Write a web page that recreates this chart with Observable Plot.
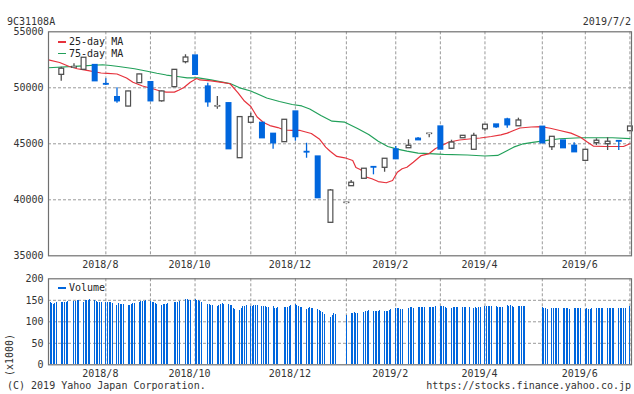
<!DOCTYPE html>
<html><head><meta charset="utf-8">
<script src="https://cdn.jsdelivr.net/npm/d3@7"></script>
<script src="https://cdn.jsdelivr.net/npm/@observablehq/plot@0.6"></script>
<style>
body{margin:0;background:#fff;}
#wrap{position:relative;width:634px;height:394px;font-family:"DejaVu Sans Mono",monospace;font-size:10px;color:#333;overflow:hidden;}
.t{position:absolute;line-height:10px;white-space:nowrap;}
.sw{position:absolute;height:1.5px;width:8px;}
#price,#vol{position:absolute;left:0;}
</style></head><body>
<div id="wrap">
  <div id="price" style="top:0"></div>
  <div id="vol" style="top:272px"></div>
  <div class="t" style="left:7px;top:16.5px">9C31108A</div>
  <div class="t" style="right:3px;top:16.5px">2019/7/2</div>
  <div class="sw" style="left:58px;top:41px;background:#e6323c"></div>
  <div class="t" style="left:69px;top:36.8px;color:#222">25-day MA</div>
  <div class="sw" style="left:58px;top:52.6px;background:#22a05a"></div>
  <div class="t" style="left:69px;top:48.5px;color:#222">75-day MA</div>
  <div class="sw" style="left:58px;top:287px;background:#0066dd"></div>
  <div class="t" style="left:69px;top:282.8px;color:#222">Volume</div>
  <div class="t" style="left:10px;top:354.5px;transform:translate(-50%,-50%) rotate(-90deg)">(x1000)</div>
  <div class="t" style="left:7px;top:380.5px">(C) 2019 Yahoo Japan Corporation.</div>
  <div class="t" style="right:3px;top:380.5px">https://stocks.finance.yahoo.co.jp</div>
</div>
<script>
// ---- data ----
const candleDates = ["2018-07-09","2018-07-17","2018-07-23","2018-07-30","2018-08-06","2018-08-13","2018-08-20","2018-08-27","2018-09-03","2018-09-10","2018-09-18","2018-09-25","2018-10-01","2018-10-09","2018-10-15","2018-10-22","2018-10-29","2018-11-05","2018-11-12","2018-11-19","2018-11-26","2018-12-03","2018-12-10","2018-12-17","2018-12-25","2019-01-04","2019-01-07","2019-01-15","2019-01-21","2019-01-28","2019-02-04","2019-02-12","2019-02-18","2019-02-25","2019-03-04","2019-03-11","2019-03-18","2019-03-25","2019-04-01","2019-04-08","2019-04-15","2019-04-22","2019-05-07","2019-05-13","2019-05-20","2019-05-27","2019-06-03","2019-06-10","2019-06-17","2019-06-24","2019-07-01"];
const openV  = [51160,51800,51610,52030,50330,49160,48330,50420,50500,48800,50060,52290,52880,50110,48330,48620,43720,46880,46870,45890,45150,47880,44270,43860,37950,39720,41220,41880,42920,42860,44490,44610,45450,45880,46540,44560,45500,44470,46300,46720,47170,46570,46520,44700,45290,44820,43480,45060,44970,45240,46130];
const highV  = [51840,52140,52700,52050,50800,50000,49700,51200,50500,49700,51620,52950,52890,50410,49220,48630,47390,47730,46880,45900,47150,47890,45050,43870,40920,39760,41720,42780,42920,43670,44760,45360,45560,45900,46550,45320,45720,45950,46710,46730,47290,47290,46530,45630,45300,45090,44470,45450,45540,45240,46550];
const lowV   = [50590,51720,51600,50590,50200,48620,48300,50400,48800,48720,50050,52140,51150,48270,48090,44510,43710,46870,45500,44520,45140,45230,43710,40150,37940,39700,41210,41870,42230,42460,43620,44600,45310,45530,44490,44550,45490,44460,46120,46360,46390,46560,45040,44400,44600,44240,43470,44850,44400,44400,46120];
const closeV = [51700,51850,52680,50590,50290,48800,49670,51190,48800,49670,51600,52700,51160,48710,48360,44520,47380,47380,45500,45050,47140,45600,44230,40150,40830,39740,41520,42770,42880,43660,43630,44820,45320,45900,44490,45110,45710,45710,46700,46480,46660,47080,45050,45620,44610,44250,44460,45270,45180,45200,46540];

const ma25Dates = ["2018-07-01","2018-07-08","2018-07-14","2018-07-19","2018-07-26","2018-08-03","2018-08-07","2018-08-13","2018-08-19","2018-08-23","2018-08-29","2018-09-05","2018-09-09","2018-09-13","2018-09-18","2018-09-21","2018-09-24","2018-09-28","2018-10-02","2018-10-04","2018-10-11","2018-10-19","2018-10-23","2018-10-28","2018-11-01","2018-11-05","2018-11-09","2018-11-13","2018-11-17","2018-11-22","2018-11-26","2018-12-01","2018-12-06","2018-12-13","2018-12-18","2018-12-22","2018-12-25","2018-12-29","2019-01-03","2019-01-08","2019-01-10","2019-01-13","2019-01-16","2019-01-20","2019-01-24","2019-01-29","2019-02-02","2019-02-05","2019-02-08","2019-02-11","2019-02-15","2019-02-20","2019-02-25","2019-03-01","2019-03-05","2019-03-09","2019-03-16","2019-03-22","2019-03-29","2019-04-05","2019-04-11","2019-04-15","2019-04-19","2019-04-23","2019-04-30","2019-05-06","2019-05-12","2019-05-18","2019-05-25","2019-05-31","2019-06-04","2019-06-08","2019-06-15","2019-06-21","2019-06-27","2019-07-01"];
const ma25Values = [52500,52260,51900,51700,51540,51320,51280,51230,50880,50500,50160,49890,49710,49610,49610,49800,50030,50500,50830,50700,50610,50470,50360,49540,48820,48330,47390,46900,46630,46450,46230,46190,46190,45920,45430,44700,44310,43870,43750,43510,42880,42680,42040,41880,41630,41520,41720,42460,42770,42910,43360,43950,44130,44580,44850,45140,45340,45430,45520,45650,45790,45950,46190,46410,46500,46540,46390,46190,45950,45590,45180,44800,44760,44760,44760,45000];

const ma75Dates = ["2018-07-01","2018-07-20","2018-08-04","2018-08-09","2018-08-14","2018-08-24","2018-09-01","2018-09-07","2018-09-13","2018-09-20","2018-09-26","2018-10-03","2018-10-11","2018-10-23","2018-10-29","2018-11-05","2018-11-15","2018-11-23","2018-12-01","2018-12-07","2018-12-12","2018-12-19","2018-12-26","2019-01-03","2019-01-11","2019-01-18","2019-01-24","2019-01-30","2019-02-05","2019-02-11","2019-02-18","2019-02-25","2019-03-06","2019-03-21","2019-04-01","2019-04-09","2019-04-13","2019-04-19","2019-04-25","2019-05-01","2019-05-10","2019-05-18","2019-05-31","2019-06-20","2019-07-01"];
const ma75Values = [51790,51930,52060,51990,51900,51700,51480,51300,51140,51010,50890,50880,50710,50380,50000,49710,49090,48780,48510,48380,48110,47530,47020,46930,46370,45830,45230,44760,44520,44340,44160,44130,44050,44000,43910,43960,44250,44700,45000,45120,45300,45450,45540,45540,45470];

const holidays = ["2018-07-16","2018-09-17","2018-09-24","2018-10-08","2018-11-23","2018-12-24","2018-12-31","2019-01-01","2019-01-02","2019-01-03","2019-01-14","2019-02-11","2019-03-21","2019-04-29","2019-04-30","2019-05-01","2019-05-02","2019-05-03","2019-05-06"];
const volumeWeeks = ["2018-07-02","2018-07-09","2018-07-16","2018-07-23","2018-07-30","2018-08-06","2018-08-13","2018-08-20","2018-08-27","2018-09-03","2018-09-10","2018-09-17","2018-09-24","2018-10-01","2018-10-08","2018-10-15","2018-10-22","2018-10-29","2018-11-05","2018-11-12","2018-11-19","2018-11-26","2018-12-03","2018-12-10","2018-12-17","2018-12-24","2018-12-31","2019-01-07","2019-01-14","2019-01-21","2019-01-28","2019-02-04","2019-02-11","2019-02-18","2019-02-25","2019-03-04","2019-03-11","2019-03-18","2019-03-25","2019-04-01","2019-04-08","2019-04-15","2019-04-22","2019-05-06","2019-05-13","2019-05-20","2019-05-27","2019-06-03","2019-06-10","2019-06-17","2019-06-24","2019-07-01"];
const volumeValues = [
 [146,143,141,143,145],[145,144,145,146,147],[148,148,149,150],[146,149,150,150,151],[149,147,145,144,144],
 [145,145,145,146,143],[138,142,141,141,141],[138,139,141,142,143],[146,147,147,148,150],[148,146,144,142,141],
 [139,140,140,141,143],[144,144,146,147],[152,153,150,150],[152,150,149,147,145],[141,141,137,137],
 [136,139,141,142,140],[140,138,138,130,128],[126,131,136,136,138],[136,136,137,138,138],[136,136,136,134,134],
 [136,131,131,133],[133,133,134,136,138],[140,138,136,134,133],[128,130,133,131,130],[129,127,124,122,116],
 [111,115,119,116],[115],[119,119,121,119,119],[122,124,125,126],[125,125,124,125,126],
 [125,125,124,126,128],[131,131,130,128,128],[131,133,133,132],[133,133,133,133,133],[133,133,133,134,135],
 [136,136,135,133,131],[131,133,133,133,133],[133,133,133,133],[131,133,131,133,133],[135,135,135,135,135],
 [135,133,133,133,133],[138,136,138,136,133],[136,136,136,136,136],[133,131,130,128],[130,131,131,131,131],
 [131,131,130,130,128],[130,131,130,130,130],[128,130,128,129,130],[131,131,131,131,131],[131,130,131,131,131],
 [131,130,131,131,131],[135,135]
];

const gridDates = ["2018-08-06","2018-09-03","2018-10-01","2018-11-05","2018-12-03","2019-01-04","2019-02-04","2019-03-04","2019-04-01","2019-05-07","2019-06-03","2019-07-01"];
const labelDates = ["2018-08-06","2018-10-01","2018-12-03","2019-02-04","2019-04-01","2019-06-03"];
const labelTexts = ["2018/8","2018/10","2018/12","2019/2","2019/4","2019/6"];
const priceTicks = [35000,40000,45000,50000,55000];
const volumeTicks = [0,50,100,150,200];
const xStart = "2018-07-01", xEnd = "2019-07-02";

// ---- build ----
const BLUE = "#0066dd", RED = "#e6323c", GREEN = "#22a05a", GRAY = "#505050", GRID = "#999", FRAME = "#707070";
const D = s => new Date(s);
const candles = candleDates.map((d, i) => ({
  date: D(d), o: openV[i], h: highV[i], l: lowV[i], c: closeV[i],
  top: Math.max(openV[i], closeV[i]), bot: Math.min(openV[i], closeV[i]), up: closeV[i] >= openV[i]
}));
const up = candles.filter(d => d.up), down = candles.filter(d => !d.up);
const ma25 = ma25Dates.map((d, i) => ({date: D(d), v: ma25Values[i]}));
const ma75 = ma75Dates.map((d, i) => ({date: D(d), v: ma75Values[i]}));
const fmtDay = d3.utcFormat("%Y-%m-%d");
const volData = [];
volumeWeeks.forEach((w, i) => {
  const s = D(w);
  const days = d3.range(5).map(k => d3.utcDay.offset(s, k)).filter(d => !holidays.includes(fmtDay(d)));
  volumeValues[i].forEach((v, j) => { if (days[j]) volData.push({date: days[j], v}); });
});
const grid = gridDates.map(D);
const labels = labelDates.map(D);
const labelMap = new Map(labels.map((d, i) => [+d, labelTexts[i]]));
const xScale = {type: "utc", domain: [D(xStart), D(xEnd)]};
const style = {fontFamily: "DejaVu Sans Mono, monospace", fontSize: "10px", color: "#333", background: "transparent", overflow: "visible"};
const gridOpts = {stroke: GRID, strokeOpacity: 1, strokeDasharray: "3,2", strokeWidth: 1};

const price = Plot.plot({
  width: 634, height: 272,
  marginTop: 31.3, marginBottom: 16.7, marginLeft: 48, marginRight: 3,
  style,
  x: xScale,
  y: {domain: [35000, 55000]},
  marks: [
    Plot.gridY([40000, 45000, 50000], gridOpts),
    Plot.gridX(grid, gridOpts),
    Plot.axisY(priceTicks, {tickSize: 0, tickPadding: 5, label: null, tickFormat: d => String(d)}),
    Plot.axisX(labels, {tickSize: 0, tickPadding: 5, label: null, dx: -5.5, tickFormat: d => labelMap.get(+d)}),
    Plot.line(ma75, {x: "date", y: "v", stroke: GREEN, strokeWidth: 1.2}),
    Plot.line(ma25, {x: "date", y: "v", stroke: RED, strokeWidth: 1.2}),
    Plot.ruleX(up, {x: "date", y1: "h", y2: "l", stroke: GRAY, strokeWidth: 1.3}),
    Plot.ruleX(down, {x: "date", y1: "h", y2: "l", stroke: BLUE, strokeWidth: 1.3}),
    Plot.ruleX(down, {x: "date", y1: "top", y2: "bot", stroke: BLUE, strokeWidth: 6, insetTop: -0.7, insetBottom: -0.7}),
    Plot.ruleX(up, {x: "date", y1: "top", y2: "bot", stroke: GRAY, strokeWidth: 6, insetTop: -0.7, insetBottom: -0.7}),
    Plot.ruleX(up, {x: "date", y1: "top", y2: "bot", stroke: "#fff", strokeWidth: 3.6, insetTop: 0.6, insetBottom: 0.6}),
    Plot.frame({stroke: FRAME, strokeWidth: 1.2})
  ]
});
document.getElementById("price").append(price);

const vol = Plot.plot({
  width: 634, height: 122,
  marginTop: 6.3, marginBottom: 29.7, marginLeft: 48, marginRight: 3,
  style,
  x: xScale,
  y: {domain: [0, 200]},
  marks: [
    Plot.gridY([50, 100, 150], gridOpts),
    Plot.gridX(grid, gridOpts),
    Plot.ruleX(volData, {x: "date", y1: 0, y2: "v", stroke: BLUE, strokeWidth: 1, shapeRendering: "crispEdges"}),
    Plot.axisY(volumeTicks, {tickSize: 0, tickPadding: 5, label: null, tickFormat: d => String(d)}),
    Plot.axisX(labels, {tickSize: 0, tickPadding: 5, label: null, dx: -5.5, tickFormat: d => labelMap.get(+d)}),
    Plot.frame({stroke: FRAME, strokeWidth: 1.2})
  ]
});
document.getElementById("vol").append(vol);
</script>
</body></html>
